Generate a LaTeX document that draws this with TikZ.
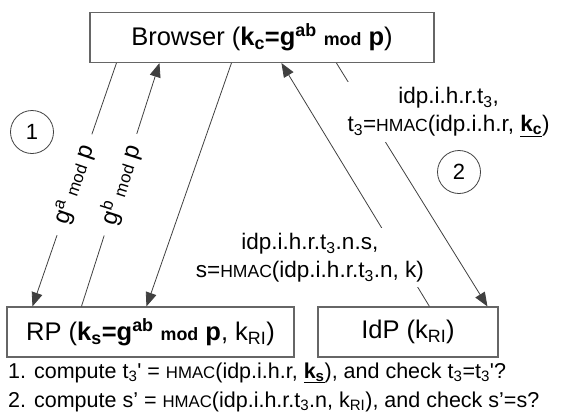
\documentclass[tikz,border=0pt]{standalone}
\usepackage{fontspec}
\setmainfont{Liberation Sans}
\usepackage{graphicx}
\usetikzlibrary{arrows.meta}

\newcommand{\hmac}{\scalebox{0.78}{HMAC}}
\newcommand{\modsmall}{\scalebox{0.7}{mod}}

\begin{document}
\begin{tikzpicture}[x=1pt, y=-1pt,
  box/.style={draw=black!60, line width=1.1pt, minimum height=50pt, inner sep=0pt, font=\fontsize{25.5}{30}\selectfont},
  flow/.style={-{Triangle[length=14pt,width=11pt]}, draw=black!75, line width=0.8pt},
  msg/.style={fill=white, align=center, font=\fontsize{22.5}{28}\selectfont, inner sep=5pt},
  keymsg/.style={sloped, fill=white, inner xsep=12pt, inner ysep=1pt, font=\fontsize{24}{28}\selectfont},
  phase/.style={circle, draw=black!75, line width=0.8pt, minimum size=43pt, inner sep=0pt, font=\fontsize{22}{26}\selectfont},
  note/.style={anchor=base west, inner sep=0pt, font=\fontsize{21.5}{26}\selectfont}]
\useasboundingbox (0,0) rectangle (571,418);

% Position the parties
\node[box, minimum width=344pt] (browser) at (262,37.5)
  {Browser (\textbf{k\textsubscript{c}=g\textsuperscript{ab} \modsmall{} p})};
\node[box, minimum width=287pt] (rp) at (150.5,332)
  {RP (\textbf{k\textsubscript{s}=g\textsuperscript{ab} \modsmall{} p}, k\textsubscript{RI})};
\node[box, minimum width=180pt] (idp) at (408,332) {IdP (k\textsubscript{RI})};

\node[phase] (one) at (32,132) {1};
\node[phase] (two) at (459,172) {2};

% Draw the messages between the parties and label them.
\draw [flow] ([xshift=27pt]browser.south west) -- node[keymsg] (ga) {g\textsuperscript{a} \modsmall{} p} ([xshift=26pt]rp.north west);
\draw [flow] ([xshift=75pt]rp.north west) -- node[keymsg] (gb) {g\textsuperscript{b} \modsmall{} p} ([xshift=70pt]browser.south west);
\draw [flow] ([xshift=142pt]browser.south west) -- ([xshift=140pt]rp.north west);
\draw [flow] ([xshift=112pt]idp.north west) -- node[msg, pos=0.2, xshift=-90pt] (assertion)
  {idp.i.h.r.t\textsubscript{3}.n.s,\\ s=\hmac(idp.i.h.r.t\textsubscript{3}.n, k)} ([xshift=192pt]browser.south west);
\draw [flow] ([xshift=247pt]browser.south west) -- node[msg, pos=0.2, xshift=82pt] (request)
  {idp.i.h.r.t\textsubscript{3},\\ t\textsubscript{3}=\hmac(idp.i.h.r, \underline{\textbf{k\textsubscript{c}}})} ([xshift=170pt]idp.north west);

% Checks done by the RP
\node[note] (check1) at (8,378)
  {1. compute t\textsubscript{3}\textquotesingle{} = \hmac(idp.i.h.r, \underline{\textbf{k\textsubscript{s}}}), and check t\textsubscript{3}=t\textsubscript{3}\textquotesingle?};
\node[note] (check2) at ([yshift=-29pt]check1.base west)
  {2. compute s' = \hmac(idp.i.h.r.t\textsubscript{3}.n, k\textsubscript{RI}), and check s'=s?};

\end{tikzpicture}
\end{document}
